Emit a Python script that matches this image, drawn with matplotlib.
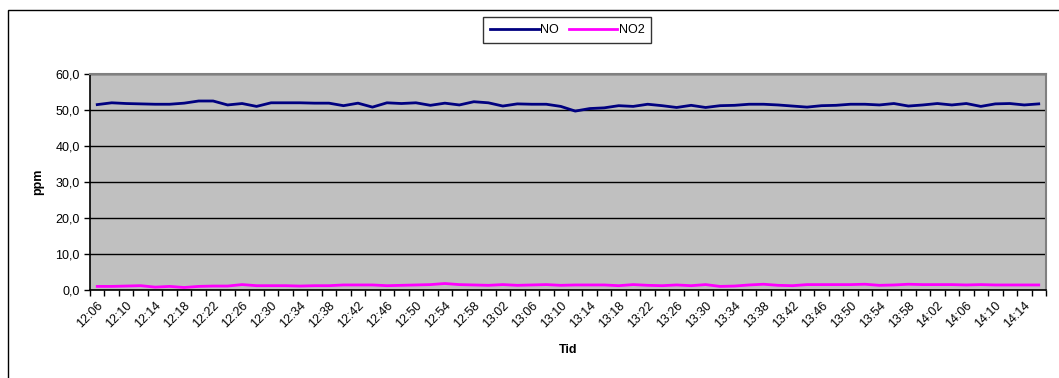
import matplotlib
matplotlib.use('Agg')
import matplotlib.pyplot as plt
import matplotlib.ticker as plticker
from matplotlib.patches import Rectangle
import numpy as np

plt.rcParams['font.family'] = ['Liberation Sans', 'DejaVu Sans']

# one sample every 2 minutes, 12:06 .. 14:16
times = [f'{(6 + 2 * i + 720) // 60}:{(6 + 2 * i) % 60:02d}' for i in range(66)]

no = [51.5, 52.0, 51.8, 51.7, 51.6, 51.6, 51.9, 52.5, 52.5, 51.4,
      51.8, 51.0, 52.0, 52.0, 52.0, 51.9, 51.9, 51.2, 51.9, 50.8,
      52.0, 51.8, 52.0, 51.3, 51.9, 51.4, 52.3, 52.0, 51.1, 51.7,
      51.6, 51.6, 51.0, 49.7, 50.4, 50.6, 51.2, 51.0, 51.6, 51.2,
      50.7, 51.3, 50.7, 51.2, 51.3, 51.6, 51.6, 51.4, 51.1, 50.8,
      51.2, 51.3, 51.6, 51.6, 51.4, 51.8, 51.1, 51.4, 51.8, 51.4,
      51.8, 51.0, 51.7, 51.8, 51.4, 51.7]

no2 = [1.0, 1.0, 1.1, 1.2, 0.8, 1.0, 0.7, 1.0, 1.1, 1.1,
       1.5, 1.2, 1.2, 1.2, 1.1, 1.2, 1.2, 1.4, 1.4, 1.4,
       1.2, 1.3, 1.4, 1.5, 1.8, 1.5, 1.4, 1.3, 1.5, 1.3,
       1.4, 1.5, 1.3, 1.4, 1.4, 1.4, 1.2, 1.5, 1.3, 1.2,
       1.4, 1.2, 1.5, 1.0, 1.1, 1.4, 1.6, 1.3, 1.2, 1.5,
       1.5, 1.5, 1.5, 1.6, 1.3, 1.4, 1.6, 1.5, 1.5, 1.5,
       1.4, 1.5, 1.4, 1.4, 1.4, 1.4]

fig = plt.figure(figsize=(10.59, 3.78), dpi=100)
ax = fig.add_axes([90 / 1059, 1 - 290 / 378, (1046 - 90) / 1059, (290 - 74) / 378])

# outer chart frame (only top and left edge visible)
fig.add_artist(Rectangle((8 / 1059, -0.5), 2, (378 - 10) / 378 + 0.5,
                         transform=fig.transFigure, fill=False, ec='black', lw=1))

x = np.arange(len(times))
ax.set_facecolor('#c0c0c0')
ax.plot(x, no, color='#000080', lw=2, label='NO', zorder=3)
ax.plot(x, no2, color='#ff00ff', lw=2, label='NO2', zorder=3)

ax.set_xlim(-0.5, len(times) - 0.5)
ax.set_ylim(0, 60)
ax.yaxis.set_major_locator(plticker.MultipleLocator(10))
ax.yaxis.set_major_formatter(plticker.FuncFormatter(lambda v, p: f'{v:.1f}'.replace('.', ',')))
ax.grid(axis='y', color='black', lw=1)
ax.set_axisbelow(True)

ax.set_xticks(x[::2])
ax.set_xticklabels(times[::2], rotation=45, ha='right', rotation_mode='anchor', fontsize=9)
ax.set_xticks(np.arange(-0.5, len(times)), minor=True)
ax.tick_params(axis='x', which='major', length=0, pad=7)
ax.tick_params(axis='x', which='minor', length=4, width=1, direction='out')
ax.tick_params(axis='y', labelsize=9, length=4, width=1)

for s in ['left', 'bottom']:
    ax.spines[s].set_color('black')
    ax.spines[s].set_linewidth(1.2)
for s in ['top', 'right']:
    ax.spines[s].set_color('#808080')
    ax.spines[s].set_linewidth(1.5)

ax.set_ylabel('ppm', fontsize=9, fontweight='bold', labelpad=8)
ax.set_xlabel('Tid', fontsize=9, fontweight='bold', labelpad=10)

leg = fig.legend(loc='center', bbox_to_anchor=(567 / 1059, 1 - 30 / 378), ncol=2, fontsize=9,
                 frameon=True, fancybox=False, edgecolor='black', handlelength=3.9,
                 handletextpad=0.1, columnspacing=0.8, borderpad=0.55)
leg.get_frame().set_linewidth(1)

fig.savefig('out.png', dpi=100)
